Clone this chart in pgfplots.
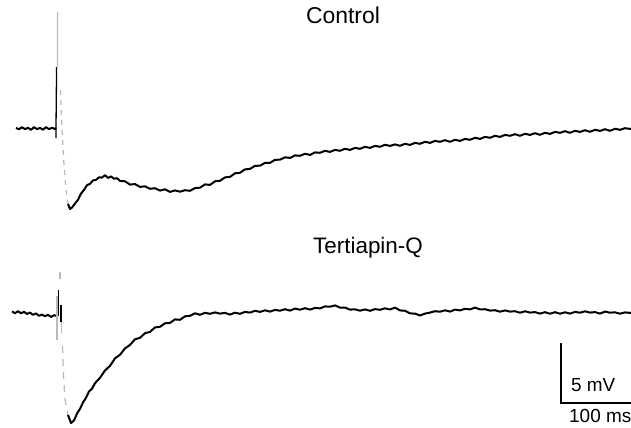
\documentclass[border=0pt]{standalone}
\usepackage{fontspec}
\setmainfont{Liberation Sans}
\usepackage{pgfplots}
\pgfplotsset{compat=1.18}
\begin{document}
\begin{tikzpicture}
\begin{axis}[name=ax, width=631bp, height=428bp, scale only axis, hide axis,
  xmin=0, xmax=631, ymin=0, ymax=428, y dir=reverse, enlargelimits=false, clip=false]
% Control trace
\addplot[black, line width=2bp, line join=round] coordinates {
(16,128)(19,129.2)(22,127.3)(25,129.1)(28,127.8)(31,129.8)(34,127.2)(37,129.1)(40,127.9)(43,129.7)(46,127.2)(49,129.1)(52,127.8)(55,129)(56,128)};
\addplot[black, line width=1.3bp] coordinates {(56,138)(56,128)(56.6,67)};
\addplot[gray!55, line width=1.2bp] coordinates {(57.4,67)(57.6,12)};
\addplot[gray!55, line width=1.2bp, dash pattern=on 5bp off 5bp] coordinates {(60.5,90)(62,130)(64,165)(66,190)(68,204)};
\addplot[black, line width=2bp, line join=round] coordinates {
(68,204)(70,209)(72,207.5)(75,203.5)(78,199.8)(81,193.6)(84,189.9)(87,185.2)(90,183.8)(93,180.4)(96,179.9)(99,177.3)(102,177.6)(105,175.2)(108,177.9)(111,176.4)(114,178.7)(117,178.2)(120,180.9)(125,181.3)(130,184.6)(135,184.1)(140,186.9)(145,186.3)(150,188.8)(155,188.2)(160,190.6)(165,189.3)(170,191.9)(175,190.4)(180,191.7)(185,190.2)(190,190.8)(195,188.1)(200,187.7)(205,184.4)(210,184.9)(215,181.3)(220,180.8)(225,177.4)(230,176.9)(235,173.3)(240,172.8)(245,169.4)(250,168.9)(255,165.8)(260,165.7)(265,162.9)(270,162.9)(275,159.8)(280,159.7)(285,157.3)(290,157.9)(295,155.4)(300,155.8)(305,153.8)(310,154.9)(315,152.4)(320,152.8)(325,150.8)(330,151.9)(335,149.9)(340,150.8)(345,148.8)(350,149.9)(355,147.9)(360,148.8)(365,146.8)(370,147.9)(375,145.9)(380,146.8)(385,144.8)(390,145.9)(395,144.4)(400,145.8)(405,143.8)(410,144.9)(415,142.9)(420,143.8)(425,141.8)(430,142.9)(435,140.9)(440,141.8)(445,140.2)(450,141.8)(455,139.8)(460,140.9)(465,138.9)(470,139.8)(475,137.8)(480,138.9)(485,136.9)(490,137.8)(495,135.8)(500,136.9)(505,134.9)(510,135.8)(515,134.2)(520,135.8)(525,133.8)(530,134.9)(535,133.2)(540,134.8)(545,132.8)(550,133.9)(555,131.9)(560,132.8)(565,131.2)(570,132.8)(575,130.8)(580,131.9)(585,130.2)(590,131.8)(595,129.8)(600,130.9)(605,129.2)(610,130.8)(615,128.8)(620,129.8)(625,128.2)(631,129)};
% Tertiapin-Q trace
\addplot[black, line width=2bp, line join=round] coordinates {
(12,311.5)(15,313.2)(18,311.2)(21,313.3)(24,311.8)(27,313.9)(30,312.6)(33,314.8)(36,313.4)(39,315.8)(42,314.6)(45,316.2)(48,314.8)(51,316.9)(54,315.2)(57,316)};
\addplot[gray!55, line width=1.2bp] coordinates {(57,296)(57,340)};
\addplot[black, line width=1.3bp] coordinates {(58.3,290)(58.3,316)};
\addplot[gray!55, line width=1.2bp] coordinates {(60,272)(60,279)};
\addplot[black, line width=1.3bp] coordinates {(61,305)(61,322)};
\addplot[gray!55, line width=1.2bp] coordinates {(61.5,322)(61.5,333)};
\addplot[gray!55, line width=1.2bp, dash pattern=on 7bp off 6bp] coordinates {(62.5,346)(63.5,375)(65,400)(68,415)};
\addplot[black, line width=2bp, line join=round] coordinates {
(68,415)(71,423)(74,420.5)(77,413.6)(80,408.8)(83,402.4)(86,397.8)(89,391.4)(92,388.7)(95,383.2)(100,377.8)(105,370.4)(110,365.9)(115,358.3)(120,354.8)(125,348.4)(130,344.9)(135,339.3)(140,337.8)(145,333.2)(150,331.9)(155,327.4)(160,326.8)(165,323.3)(170,322.9)(175,319.4)(180,319.8)(185,316.3)(190,315.8)(195,313.3)(200,314.8)(205,312.8)(210,313.8)(215,312.4)(220,313.6)(225,312.9)(230,314.6)(235,312.7)(240,313.8)(245,311.9)(250,312.6)(255,310.8)(260,311.9)(265,310.3)(270,311.6)(275,309.9)(280,310.7)(285,309.2)(290,310.6)(295,308.6)(300,309.7)(305,308.2)(310,309.6)(315,307.9)(320,308.4)(325,306.4)(330,306.7)(335,305.4)(340,307.6)(345,307.6)(350,309.6)(355,309.3)(360,310.7)(365,309.4)(370,310.8)(375,309.1)(380,309.8)(385,308.3)(390,309.5)(395,307.6)(400,310.4)(405,310.8)(410,313.4)(415,313.6)(420,315.5)(425,313.6)(430,312.6)(435,311.2)(440,311.7)(445,310.3)(450,311.6)(455,309.6)(460,310.4)(465,308.8)(470,309.4)(475,307.6)(480,309.4)(485,309.2)(490,310.6)(495,310.2)(500,311.7)(505,310.4)(510,311.6)(515,311.2)(520,312.7)(525,311.3)(530,312.6)(535,312.1)(540,313.6)(545,312.2)(550,313.7)(555,312.2)(560,313.7)(565,312.3)(570,313.6)(575,311.9)(580,312.7)(585,311.3)(590,312.6)(595,312.1)(600,313.6)(605,311.6)(610,312.7)(615,312.3)(620,313.7)(625,312.4)(631,313)};
% scale bar
\addplot[black, line width=1.2bp] coordinates {(561,343)(561,403)(631,403)};
% labels
\node[anchor=base, font=\fontsize{23}{27}\selectfont] at (axis cs:343,24) {Control};
\node[anchor=base, font=\fontsize{22.5}{27}\selectfont] at (axis cs:368,253) {Tertiapin-Q};
\node[anchor=base west, inner sep=0pt, font=\fontsize{19}{22}\selectfont] at (axis cs:571,391) {5 mV};
\node[anchor=base west, inner sep=0pt, font=\fontsize{19}{22}\selectfont] at (axis cs:569,422) {100 ms};
\end{axis}
\pgfresetboundingbox
\path (ax.south west) rectangle (ax.north east);
\end{tikzpicture}
\end{document}
